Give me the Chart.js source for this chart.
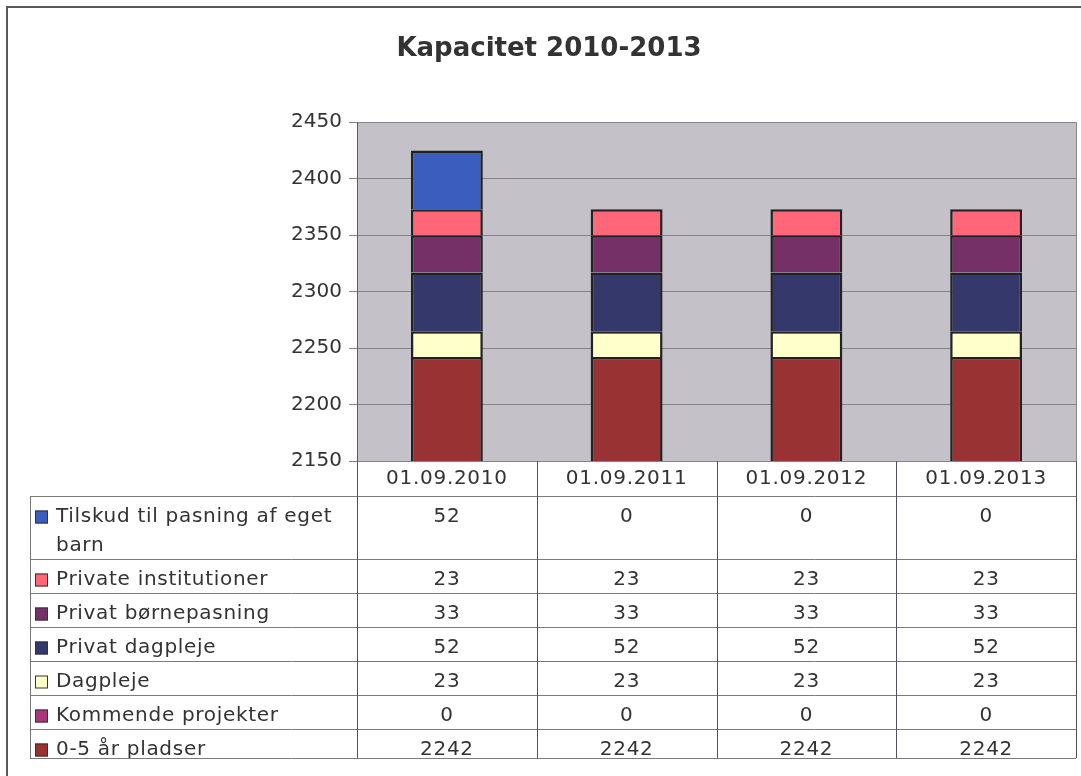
<!DOCTYPE html>
<html>
<head>
<meta charset="utf-8">
<script src="https://cdn.jsdelivr.net/npm/chart.js@4.4.1/dist/chart.umd.min.js"></script>
<style>
  html, body { margin: 0; padding: 0; background: #ffffff; }
  canvas { display: block; }
</style>
</head>
<body>
<canvas id="c" width="1081" height="776"></canvas>
<script>
// ---- data ----
const title = 'Kapacitet 2010-2013';
const categories = ['01.09.2010', '01.09.2011', '01.09.2012', '01.09.2013'];
// series, listed bottom of stack first
const seriesNames = ['0-5 år pladser', 'Kommende projekter', 'Dagpleje', 'Privat dagpleje',
  'Privat børnepasning', 'Private institutioner', 'Tilskud til pasning af eget barn'];
const pladser05 = [2242, 2242, 2242, 2242];
const kommendeProjekter = [0, 0, 0, 0];
const dagpleje = [23, 23, 23, 23];
const privatDagpleje = [52, 52, 52, 52];
const privatBornepasning = [33, 33, 33, 33];
const privateInstitutioner = [23, 23, 23, 23];
const tilskud = [52, 0, 0, 0];
const seriesValues = [pladser05, kommendeProjekter, dagpleje, privatDagpleje,
  privatBornepasning, privateInstitutioner, tilskud];
const seriesColors = ['#993333', '#a8387a', '#ffffcc', '#34386a', '#763068', '#ff6677', '#3a5dbe'];
const yMin = 2150, yMax = 2450, yStep = 50;

// ---- style ----
const FONT = '"DejaVu Sans", Verdana, sans-serif';
const TEXT = '#333333';

const datasets = seriesNames.map((name, i) => ({
  label: name,
  data: seriesValues[i],
  backgroundColor: seriesColors[i],
  borderColor: '#222222',
  borderWidth: 2.5,
  borderSkipped: 'start',
  categoryPercentage: 1.0,
  barPercentage: 0.4
}));

const frameAndBg = {
  id: 'frameAndBg',
  beforeDraw(chart) {
    const ctx = chart.ctx, a = chart.chartArea;
    ctx.save();
    ctx.fillStyle = '#ffffff';
    ctx.fillRect(0, 0, chart.width, chart.height);
    // outer frame (top and left)
    ctx.strokeStyle = '#5a5a5a';
    ctx.lineWidth = 2;
    ctx.beginPath();
    ctx.moveTo(7, chart.height);
    ctx.lineTo(7, 7);
    ctx.lineTo(chart.width, 7);
    ctx.stroke();
    // plot area background
    ctx.fillStyle = '#c5c1c9';
    ctx.fillRect(a.left, a.top, a.right - a.left, a.bottom - a.top);
    ctx.restore();
  },
  afterDatasetsDraw(chart) {
    const ctx = chart.ctx, a = chart.chartArea;
    ctx.save();
    ctx.strokeStyle = '#8a878e';
    ctx.lineWidth = 1;
    ctx.beginPath();
    ctx.moveTo(a.right + 0.5, a.top);
    ctx.lineTo(a.right + 0.5, a.bottom);
    ctx.stroke();
    ctx.restore();
  }
};

function wrapText(ctx, text, maxW) {
  const words = text.split(' ');
  const lines = [];
  let cur = '';
  for (const w of words) {
    const test = cur ? cur + ' ' + w : w;
    if (ctx.measureText(test).width > maxW && cur) {
      lines.push(cur);
      cur = w;
    } else {
      cur = test;
    }
  }
  if (cur) lines.push(cur);
  return lines;
}

const dataTable = {
  id: 'dataTable',
  afterDraw(chart) {
    const ctx = chart.ctx, a = chart.chartArea, xs = chart.scales.x;
    const n = categories.length;
    const cw = (a.right - a.left) / n;
    const colLeft = i => xs.getPixelForValue(i) - cw / 2;
    const colCenter = i => xs.getPixelForValue(i);
    const tableLeft = 30, headerTop = a.bottom, headerH = 35;
    const rowH = 34, lineH = 29, tableBottom = 758;
    const textX = 56, swX = 35, swSize = 13;

    ctx.save();
    ctx.font = '20px ' + FONT;
    ctx.letterSpacing = '0.7px';
    ctx.fillStyle = TEXT;
    ctx.textBaseline = 'middle';

    // header labels
    ctx.textAlign = 'center';
    categories.forEach((c, i) => ctx.fillText(c, colCenter(i), headerTop + 18));

    // body rows (top of stack first)
    const order = seriesNames.map((_, i) => i).reverse();
    let y = headerTop + headerH;
    const rowLines = [y];
    ctx.save();
    ctx.beginPath();
    ctx.rect(0, y, chart.width, tableBottom - y);
    ctx.clip();
    for (const si of order) {
      ctx.textAlign = 'left';
      const lines = wrapText(ctx, seriesNames[si], colLeft(0) - textX - 4);
      const h = rowH + (lines.length - 1) * lineH;
      const cy = y + 21;
      // swatch
      ctx.fillStyle = seriesColors[si];
      ctx.fillRect(swX, cy - swSize / 2, swSize, swSize);
      ctx.strokeStyle = '#333333';
      ctx.lineWidth = 1;
      ctx.strokeRect(swX + 0.5, cy - swSize / 2 + 0.5, swSize - 1, swSize - 1);
      ctx.fillStyle = TEXT;
      lines.forEach((ln, k) => ctx.fillText(ln, textX, cy + k * lineH));
      ctx.textAlign = 'center';
      seriesValues[si].forEach((v, i) => ctx.fillText(String(v), colCenter(i), cy));
      y += h;
      rowLines.push(y);
    }
    ctx.restore();

    // grid lines of the table
    ctx.lineWidth = 1;
    ctx.strokeStyle = '#7a7a7a';
    ctx.beginPath();
    rowLines.forEach(ly => {
      if (ly <= tableBottom) {
        ctx.moveTo(tableLeft, Math.round(ly) + 0.5);
        ctx.lineTo(a.right, Math.round(ly) + 0.5);
      }
    });
    ctx.moveTo(tableLeft, tableBottom + 0.5);
    ctx.lineTo(a.right, tableBottom + 0.5);
    ctx.moveTo(tableLeft + 0.5, headerTop + headerH);
    ctx.lineTo(tableLeft + 0.5, tableBottom);
    ctx.stroke();

    ctx.strokeStyle = '#50505e';
    ctx.beginPath();
    for (let i = 0; i <= n; i++) {
      const x = Math.round(i < n ? colLeft(i) : a.right) + 0.5;
      ctx.moveTo(x, headerTop);
      ctx.lineTo(x, tableBottom);
    }
    ctx.stroke();
    ctx.restore();
  }
};

new Chart(document.getElementById('c'), {
  type: 'bar',
  data: { labels: categories, datasets },
  options: {
    responsive: false,
    animation: false,
    devicePixelRatio: 1,
    layout: { padding: { left: 22, right: 5, top: 0, bottom: 315 } },
    plugins: {
      legend: { display: false },
      tooltip: { enabled: false },
      title: {
        display: true,
        text: title,
        color: TEXT,
        font: { family: FONT, size: 26, weight: 'bold', lineHeight: 1.2 },
        padding: { top: 34, bottom: 57 }
      }
    },
    scales: {
      x: {
        stacked: true,
        display: false
      },
      y: {
        stacked: true,
        min: yMin,
        max: yMax,
        ticks: {
          stepSize: yStep,
          color: TEXT,
          padding: 7,
          font: { family: FONT, size: 20 },
          callback: v => String(v)
        },
        grid: {
          color: '#85828a',
          lineWidth: 1,
          tickLength: 8,
          drawTicks: true
        },
        border: { color: '#5a5a66', width: 1 },
        afterFit(scale) { scale.width = 335; }
      }
    }
  },
  plugins: [frameAndBg, dataTable]
});
</script>
</body>
</html>
